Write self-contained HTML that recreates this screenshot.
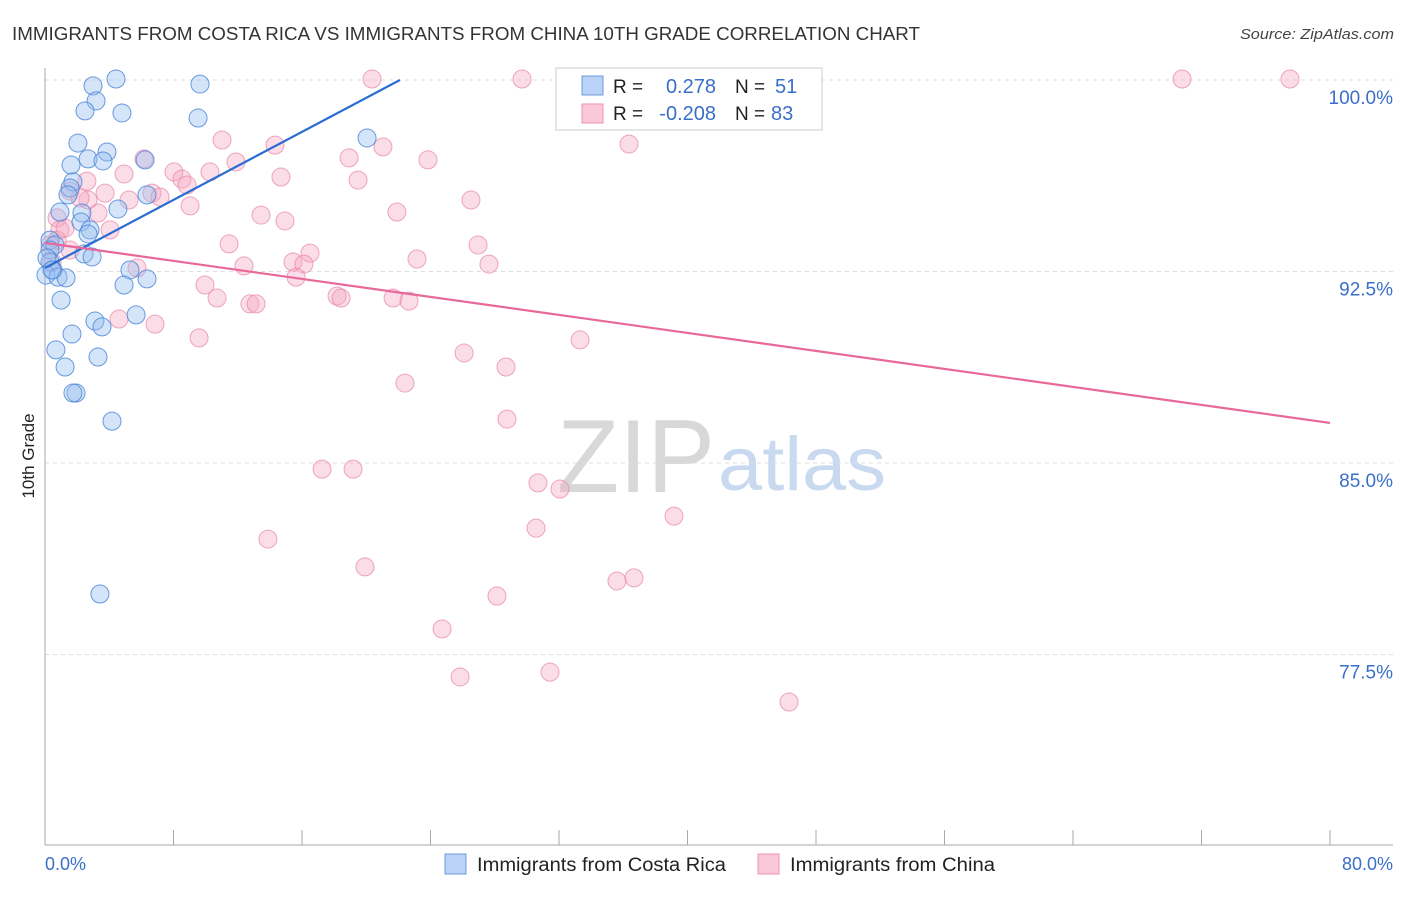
<!DOCTYPE html>
<html><head><meta charset="utf-8"><style>
body{margin:0;background:#fff;font-family:"Liberation Sans",sans-serif;}
svg text{font-family:"Liberation Sans",sans-serif;}
</style></head><body>
<svg id="chart" width="1406" height="892" viewBox="0 0 1406 892" xmlns="http://www.w3.org/2000/svg">
<text x="12" y="40" font-size="18" fill="#333" textLength="908" lengthAdjust="spacingAndGlyphs">IMMIGRANTS FROM COSTA RICA VS IMMIGRANTS FROM CHINA 10TH GRADE CORRELATION CHART</text>
<text x="1240" y="39" font-size="15" fill="#444" font-style="italic" textLength="154" lengthAdjust="spacingAndGlyphs">Source: ZipAtlas.com</text>
<text x="557" y="492" font-size="104" fill="#d8d8d8" font-family="Liberation Serif" textLength="158" lengthAdjust="spacingAndGlyphs">ZIP</text>
<text x="718" y="490" font-size="76" fill="#c9d9ef" textLength="168" lengthAdjust="spacingAndGlyphs">atlas</text>
<g id="grid"></g>
<g id="marks"></g>
<text transform="translate(34,456) rotate(-90)" font-size="17" fill="#222" text-anchor="middle">10th Grade</text>
<text x="45" y="870" font-size="18" fill="#3a6fc8">0.0%</text>
<text x="1393" y="870" font-size="18" fill="#3a6fc8" text-anchor="end">80.0%</text>
<g>
<rect x="556" y="68" width="266" height="62" fill="#fff" stroke="#ccc"/>
<rect x="582" y="76" width="21" height="19" fill="#b9d2f5" stroke="#6d9be0"/>
<rect x="582" y="104" width="21" height="19" fill="#fbc8d8" stroke="#ee92b0"/>
<text x="613" y="93" font-size="19" fill="#222">R =</text>
<text x="716" y="93" font-size="20" fill="#3a6fc8" text-anchor="end">0.278</text>
<text x="735" y="93" font-size="19" fill="#222">N =</text>
<text x="775" y="93" font-size="20" fill="#3a6fc8">51</text>
<text x="613" y="120" font-size="19" fill="#222">R =</text>
<text x="716" y="120" font-size="20" fill="#3a6fc8" text-anchor="end">-0.208</text>
<text x="735" y="120" font-size="19" fill="#222">N =</text>
<text x="771" y="120" font-size="20" fill="#3a6fc8">83</text>
</g>
<g>
<rect x="445" y="854" width="21" height="20" fill="#b9d2f5" stroke="#6d9be0"/>
<text x="477" y="871" font-size="19" fill="#222" textLength="249" lengthAdjust="spacingAndGlyphs">Immigrants from Costa Rica</text>
<rect x="758" y="854" width="21" height="20" fill="#fbc8d8" stroke="#ee92b0"/>
<text x="790" y="871" font-size="19" fill="#222" textLength="205" lengthAdjust="spacingAndGlyphs">Immigrants from China</text>
</g>
</svg>
<script>
const yTicks=[100,92.5,85,77.5];
const yTickLabels=["100.0%","92.5%","85.0%","77.5%"];
const xTicks=[0,8,16,24,32,40,48,56,64,72,80];
const bluePx=[[116,79],[200,84],[93,86],[96,101],[85,111],[122,113],[198,118],[367,138],[78,143],[107,152],[88,159],[103,161],[145,160],[71,165],[73,182],[70,188],[68,195],[147,195],[118,209],[60,212],[82,213],[81,222],[90,230],[88,234],[50,240],[55,245],[50,250],[84,254],[92,257],[50,262],[53,270],[46,275],[58,277],[66,278],[130,270],[124,285],[147,279],[61,300],[95,321],[102,327],[136,315],[72,334],[98,357],[56,350],[65,367],[76,393],[73,393],[112,421],[100,594],[47,258],[52,270]];
const pinkPx=[[372,79],[522,79],[573,79],[1182,79],[1290,79],[222,140],[275,145],[383,147],[629,144],[144,159],[349,158],[428,160],[236,162],[174,172],[210,172],[124,174],[182,179],[281,177],[358,180],[87,181],[187,185],[70,191],[105,193],[152,193],[160,197],[88,200],[129,200],[471,200],[190,206],[98,213],[261,215],[285,221],[397,212],[57,218],[60,230],[229,244],[478,245],[310,253],[50,245],[70,250],[244,266],[293,262],[304,264],[417,259],[489,264],[137,268],[296,277],[205,285],[217,298],[250,304],[256,304],[337,296],[341,298],[393,298],[409,301],[119,319],[155,324],[199,338],[580,340],[464,353],[506,367],[405,383],[507,419],[322,469],[353,469],[538,483],[560,489],[536,528],[674,516],[268,539],[365,567],[497,596],[617,581],[634,578],[442,629],[460,677],[550,672],[789,702],[57,240],[65,228],[52,262],[80,198],[110,230]];
const blueX=bluePx.map(p=>+((p[0]-45)/1285*80).toFixed(2));
const blueY=bluePx.map(p=>+(100-(p[1]-80)/25.533).toFixed(2));
const pinkX=pinkPx.map(p=>+((p[0]-45)/1285*80).toFixed(2));
const pinkY=pinkPx.map(p=>+(100-(p[1]-80)/25.533).toFixed(2));
const blueTrend=[[0,92.64],[22.1,100]];
const pinkTrend=[[0,93.62],[80,86.57]];

const X=v=>45+v/80*1285;
const Y=v=>80+(100-v)*25.533;
const NS="http://www.w3.org/2000/svg";
function mk(tag,attrs,parent){const e=document.createElementNS(NS,tag);for(const k in attrs)e.setAttribute(k,attrs[k]);parent.appendChild(e);return e;}
const grid=document.getElementById('grid');const marks=document.getElementById('marks');
yTicks.forEach((t,i)=>{
  const l=mk('line',{x1:45,x2:1393,y1:Y(t),y2:Y(t),stroke:'#ddd','stroke-dasharray':'4,4'},grid);
  
  
  const tx=mk('text',{x:1393,y:Y(t)+24,'font-size':19,fill:'#3a6fc8','text-anchor':'end'},grid);
  tx.textContent=yTickLabels[i];
  
  
});
const ax=mk('line',{x1:45,x2:45,y1:68,y2:845,stroke:'#aaa'},grid);


const bx=mk('line',{x1:45,x2:1393,y1:845,y2:845,stroke:'#aaa'},grid);


xTicks.forEach(t=>{
  const l=mk('line',{x1:X(t),x2:X(t),y1:830,y2:845,stroke:'#aaa'},grid);
  
  
});
pinkX.forEach((x,i)=>{
  const c=mk('circle',{cx:X(x),cy:Y(pinkY[i]),r:9,fill:'rgba(246,170,196,0.4)',stroke:'rgba(232,130,165,0.7)','stroke-width':1},marks);
  
  
});
blueX.forEach((x,i)=>{
  const c=mk('circle',{cx:X(x),cy:Y(blueY[i]),r:9,fill:'rgba(150,190,240,0.4)',stroke:'rgba(70,130,215,0.8)','stroke-width':1},marks);
  
  
});
const bl=mk('line',{x1:X(blueTrend[0][0]),y1:Y(blueTrend[0][1]),x2:X(blueTrend[1][0]),y2:Y(blueTrend[1][1]),stroke:'#2a6dd2','stroke-width':2.2},marks);


const pl=mk('line',{x1:X(pinkTrend[0][0]),y1:Y(pinkTrend[0][1]),x2:X(pinkTrend[1][0]),y2:Y(pinkTrend[1][1]),stroke:'#e8689a','stroke-width':2.2},marks);


</script>
</body></html>
